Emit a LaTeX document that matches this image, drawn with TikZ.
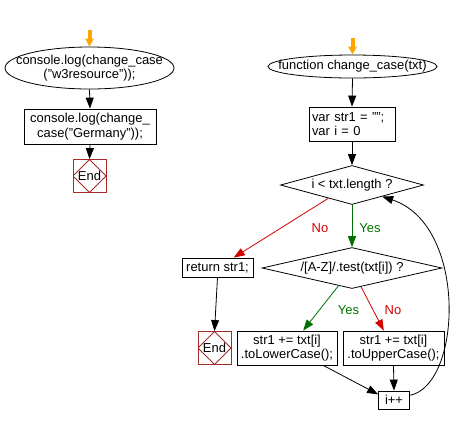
\documentclass[tikz,border=0pt]{standalone}
\usepackage{fontspec}
\setmainfont{Liberation Sans}
\usepackage{xcolor}
\usepackage{tikz}
\usetikzlibrary{shapes.geometric, arrows.meta, calc}
\definecolor{endred}{RGB}{165,42,42}
\definecolor{yesgreen}{RGB}{0,112,0}
\definecolor{nored}{RGB}{210,0,0}
\definecolor{goorange}{RGB}{255,165,0}

\begin{document}
\begin{tikzpicture}[
    x=1bp, y=-1bp, line width=0.8bp,
    font=\fontsize{13}{14.5}\selectfont,
    startell/.style={
        ellipse,
        draw=black,
        inner xsep=-20bp, inner ysep=0pt,
        align=center
    },
    procbox/.style={
        rectangle,
        draw=black,
        inner sep=0pt,
        align=center
    },
    decision/.style={
        diamond,
        draw=black,
        inner sep=0pt
    },
    endbox/.style={
        rectangle,
        draw=endred,
        minimum size=33bp, inner sep=0pt,
        path picture={\draw[endred] (path picture bounding box.north) -- (path picture bounding box.east)
            -- (path picture bounding box.south) -- (path picture bounding box.west) -- cycle;}
    },
    yeslabel/.style={text=yesgreen, inner sep=0pt},
    nolabel/.style={text=nored, inner sep=0pt},
    mainarrow/.style={->, >={Triangle[length=11bp, width=8bp]}},
    yesarrow/.style={mainarrow, yesgreen},
    noarrow/.style={mainarrow, nored},
    startarrow/.style={goorange, line width=4bp, -{Triangle[length=8bp, width=8bp]}}
]

\useasboundingbox (0,0) rectangle (461,425);

\coordinate (go1) at (89.5,30);
\node[startell, minimum width=169bp, minimum height=42bp] (call1) at (89.5,68) {console.log(change\_case\\("w3resource"));};
\node[procbox, minimum width=132bp, minimum height=35bp] (call2) at (90,126.5) {console.log(change\_\\case("Germany"));};
\node[endbox] (end1) at (89.5,176) {End};

\draw[startarrow] (go1) -- (call1.north);
\draw[mainarrow] (call1.south) -- (call2.north);
\draw[mainarrow] (call2.south) -- (end1.north);

\coordinate (go2) at (352.5,38);
\node[startell, minimum width=169bp, minimum height=23bp] (func) at (352.5,66.5) {function change\_case(txt)};
\node[procbox, minimum width=86bp, minimum height=34bp, text width=80bp, align=left] (init) at (352,124) {var str1 = "";\\var i = 0};
\node[decision, minimum width=143bp, minimum height=39bp, aspect=3.67] (loop) at (352,185) {i < txt.length ?};
\node[decision, minimum width=180bp, minimum height=41bp, aspect=4.4] (isupper) at (352,268) {/[A-Z]/.test(txt[i]) ?};
\node[procbox, minimum width=71bp, minimum height=19bp] (ret) at (217.5,267.5) {return str1;};
\node[endbox] (end2) at (214.5,348) {End};
\node[procbox, minimum width=100bp, minimum height=34bp] (lower) at (287,348) {str1 += txt[i]\\.toLowerCase();};
\node[procbox, minimum width=101bp, minimum height=34bp] (upcase) at (393.5,348) {str1 += txt[i]\\.toUpperCase();};
\node[procbox, minimum width=31bp, minimum height=18bp] (inc) at (394,400) {i++};

\draw[startarrow] (go2) -- (func.north);
\draw[mainarrow] (func.south) -- (init.north);
\draw[mainarrow] (init.south) -- (loop.north);
\draw[yesarrow] (loop.south) -- (isupper.north);
\draw[noarrow] ($(loop.south)!0.33!(loop.west)$) -- ($(ret.north)!0.45!(ret.north east)$);
\draw[yesarrow] ($(isupper.south)!0.15!(isupper.west)$) -- ($(lower.north)!0.32!(lower.north east)$);
\draw[noarrow] ($(isupper.south)!0.1!(isupper.east)$) -- ($(upcase.north)!0.19!(upcase.north west)$);
\draw[mainarrow] (ret.south) -- (end2.north);
\draw[mainarrow] ($(lower.south)!0.72!(lower.south east)$) -- ($(inc.west)!0.6!(inc.north west)$);
\draw[mainarrow] (upcase.south) -- (inc.north);
\draw[mainarrow] ($(inc.east)!0.5!(inc.north east)$) .. controls (462,385) and (468,225) .. ($(loop.south)!0.42!(loop.east)$);

\node[nolabel] (no1) at (320,228) {No};
\node[yeslabel] (yes1) at (370,228) {Yes};
\node[yeslabel] (yes2) at (348.5,310) {Yes};
\node[nolabel] (no2) at (393,310) {No};

\end{tikzpicture}
\end{document}
